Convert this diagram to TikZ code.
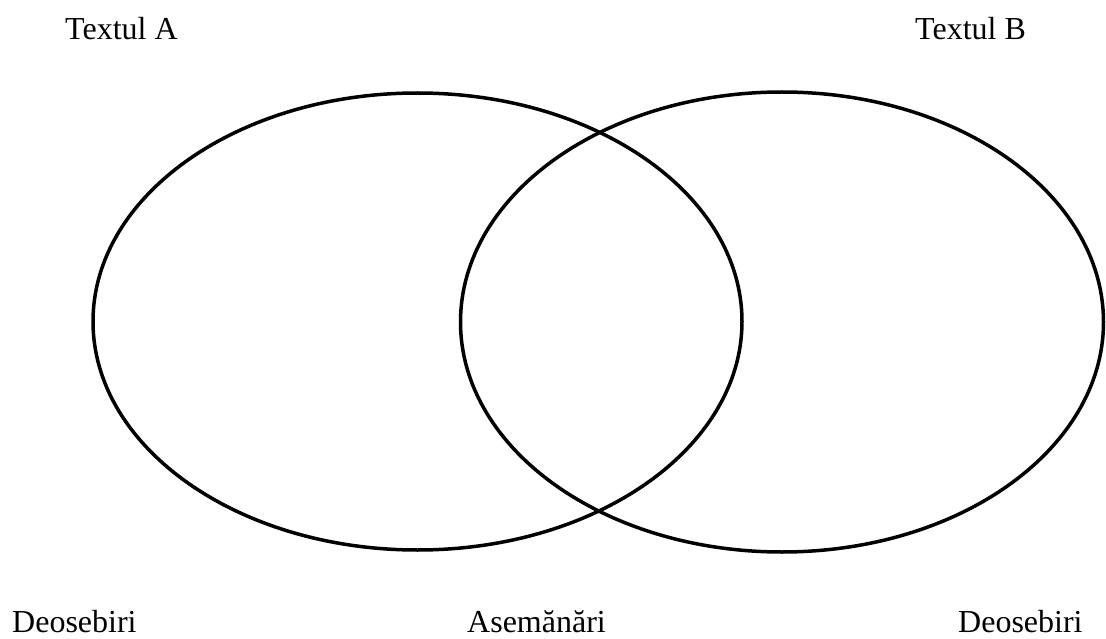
\documentclass[tikz,border=0pt]{standalone}
\usepackage{fontspec}
\setmainfont{Liberation Serif}
\usepackage{tikz}
\usetikzlibrary{positioning}
\definecolor{Ink}{HTML}{000000}
\tikzset{
  caption/.style={font=\fontsize{32}{36}\selectfont,text=Ink,inner sep=0pt,text depth=0pt,anchor=base west},
  ring/.style={draw=Ink,line width=3.5pt}
}
\begin{document}
\begin{tikzpicture}[x=1pt,y=-1pt]
  \useasboundingbox (0,0) rectangle (1106,639);
  % the two sets
  \draw[ring] (417.5,321.5) ellipse [x radius=324.5,y radius=228.5];
  \draw[ring] (782,322) ellipse [x radius=321.5,y radius=230];
  % titles
  \node[caption] (ta) at (65,40) {Textul A};
  \node[caption] (tb) at (915,40) {Textul B};
  % labels underneath
  \node[caption] (da) at (12,632) {Deosebiri};
  \node[caption] (as) at (467,632) {Asemănări};
  \node[caption] (db) at (958,632) {Deosebiri};
\end{tikzpicture}
\end{document}
